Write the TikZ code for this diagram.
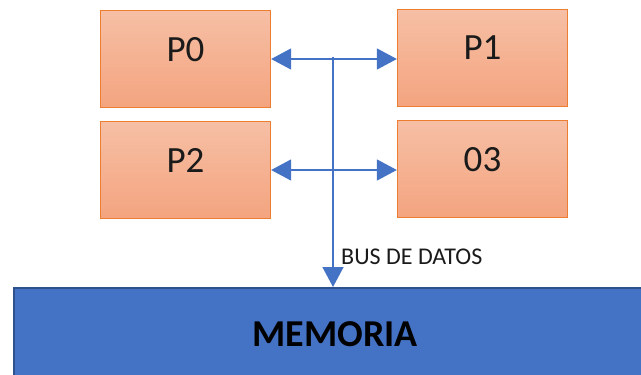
\documentclass[tikz,border=0pt]{standalone}
\usepackage{fontspec}
\setmainfont{Carlito}
\usetikzlibrary{arrows.meta}
\definecolor{proc}{HTML}{ED7D31}
\definecolor{ptop}{HTML}{F6BFA5}
\definecolor{pbot}{HTML}{F4A47F}
\definecolor{busblue}{HTML}{4472C4}
\definecolor{memborder}{HTML}{2F528F}
\definecolor{txt}{HTML}{1A1A1A}
\begin{document}
\begin{tikzpicture}[x=1pt,y=-1pt,
  procbox/.style={draw=proc, line width=1.3pt, top color=ptop, bottom color=pbot,
    minimum width=170pt, minimum height=97pt, inner sep=0pt,
    font=\fontsize{37}{40}\selectfont, text=txt, text depth=20pt},
  membox/.style={draw=memborder, line width=2pt, fill=busblue,
    minimum width=642pt, minimum height=92pt, inner sep=0pt,
    font=\bfseries\fontsize{38}{42}\selectfont, text=black},
  busline/.style={draw=busblue, line width=1.5pt}
]
\useasboundingbox (0,0) rectangle (641,375);
\clip (0,0) rectangle (641,375);
\node[procbox] (P0) at (185.5,59) {P0};
\node[procbox] (P1) at (482.5,58) {P1};
\node[procbox] (P2) at (185.5,170) {P2};
\node[procbox] (O3) at (482.5,169) {03};
\node[membox] (MEM) at (335,334) {MEMORIA};
\coordinate (bus) at (333,57);
\draw[busline,{Triangle[length=20pt,width=21pt]}-{Triangle[length=20pt,width=21pt]}] (P0.east) -- (P0.east -| P1.west);
\draw[busline,{Triangle[length=20pt,width=21pt]}-{Triangle[length=20pt,width=21pt]}] (P2.east) -- (P2.east -| O3.west);
\draw[busline,-{Triangle[length=20pt,width=21pt]}] (bus) -- (bus |- MEM.north);
\node[anchor=base west, inner sep=0pt, font=\fontsize{24}{27}\selectfont, text=txt] (lbl) at (341,264) {BUS DE DATOS};
\end{tikzpicture}
\end{document}
